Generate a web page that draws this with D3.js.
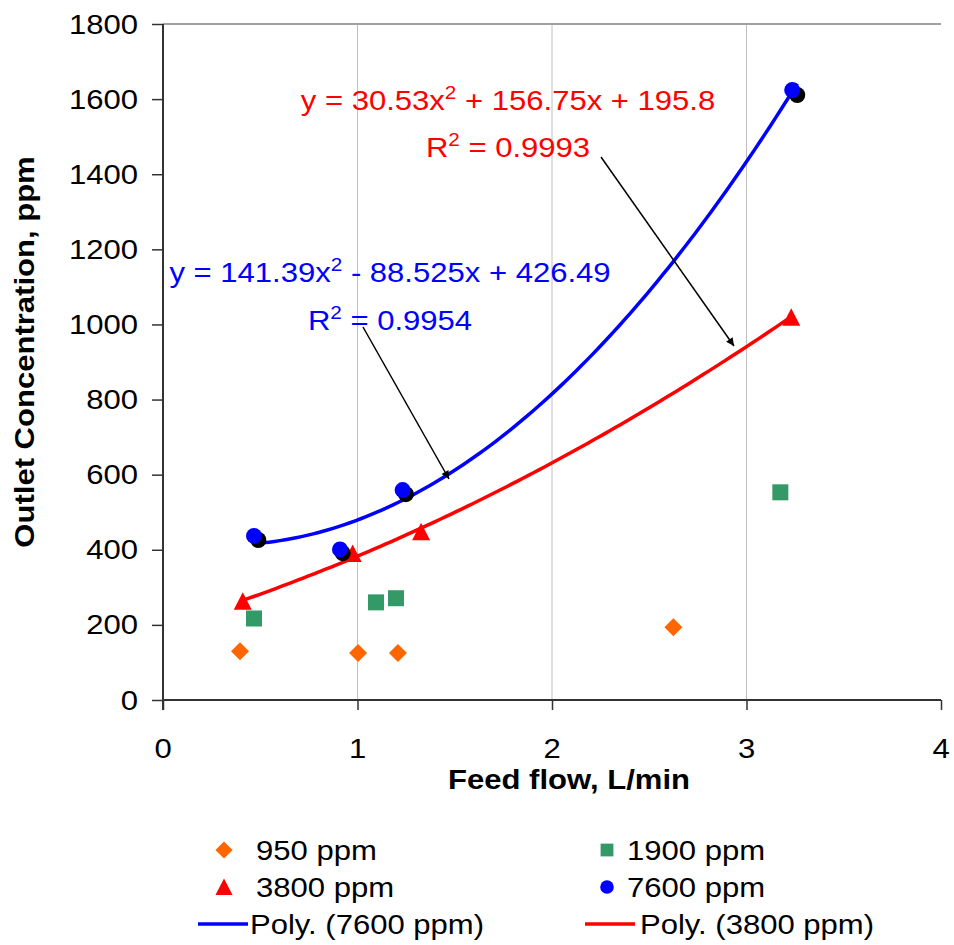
<!DOCTYPE html>
<html><head><meta charset="utf-8">
<script src="https://cdn.jsdelivr.net/npm/d3@7"></script>
<style>body{margin:0;background:#fff}svg text{font-family:"Liberation Sans",Arial,sans-serif}</style>
</head><body><svg id="c" width="954" height="945"></svg>
<script>
// ---- data ----
const xTicks = [0, 1, 2, 3, 4];
const yTicks = [0, 200, 400, 600, 800, 1000, 1200, 1400, 1600, 1800];
const s950X = [0.396, 1.003, 1.208, 2.624];
const s950Y = [130, 125, 125, 194];
const s1900X = [0.468, 1.095, 1.198, 3.174];
const s1900Y = [217, 260, 271, 553];
const s3800X = [0.41, 0.975, 1.327, 3.23];
const s3800Y = [263, 390, 448, 1019];
const s7600X = [0.468, 0.910, 1.232, 3.235];
const s7600Y = [437, 401, 559, 1624];
const s7600bX = [0.49, 0.924, 1.249, 3.261];
const s7600bY = [426, 391, 548, 1611];
const poly7600 = [426.49, -88.525, 141.39]; // c0, c1, c2
const poly3800 = [195.8, 156.75, 30.53];
const legendLabels = ["950 ppm", "1900 ppm", "3800 ppm", "7600 ppm", "Poly. (7600 ppm)", "Poly. (3800 ppm)"];

// ---- layout ----
const svg = d3.select("#c");
const X0 = 163, X1 = 941, Y0 = 700, Y1 = 24;
const x = d3.scaleLinear().domain([0, 4]).range([X0, X1]);
const y = d3.scaleLinear().domain([0, 1800]).range([Y0, Y1]);
const SX = 1.15, FS = 27;
const C = {o: "#FF6600", g: "#339966", r: "#FF0000", b: "#0000FF"};

function txt(g, tx, ty, anchor, opts = {}) {
  return g.append("text")
    .attr("transform", `translate(${tx},${ty})${opts.rot ? " rotate(" + opts.rot + ")" : ""} scale(${SX},1)`)
    .attr("text-anchor", anchor)
    .attr("font-size", opts.fs || FS)
    .attr("font-weight", opts.bold ? "bold" : null)
    .attr("fill", opts.fill || "#000");
}

// grid
svg.append("g").selectAll("line").data(xTicks.filter(d => d > 0 && d < 4)).join("line")
  .attr("x1", d => x(d)).attr("x2", d => x(d)).attr("y1", Y1).attr("y2", Y0)
  .attr("stroke", "#c0c0c0").attr("stroke-width", 1);
svg.append("line").attr("x1", X0).attr("x2", X1).attr("y1", y(1800)).attr("y2", y(1800))
  .attr("stroke", "#a0a0a0").attr("stroke-width", 2);

// axes
const gx = svg.append("g").attr("transform", `translate(0,${Y0})`)
  .call(d3.axisBottom(x).tickValues(xTicks).tickSize(10).tickFormat(""));
const gy = svg.append("g").attr("transform", `translate(${X0},0)`)
  .call(d3.axisLeft(y).tickValues(yTicks).tickSize(11).tickFormat(""));
[gx, gy].forEach(g => {
  g.select(".domain").attr("stroke", "#333").attr("stroke-width", 2);
  g.selectAll(".tick line").attr("stroke", "#333").attr("stroke-width", 1.5);
});
gx.select(".domain").attr("d", `M${X0},0H${X1}`);
gy.select(".domain").attr("d", `M0,${Y1}V${Y0 + 10}`);

xTicks.forEach(t => txt(svg, x(t), 758, "middle").text(t));
yTicks.forEach(t => txt(svg, 138, y(t) + 9.5, "end").text(t));

txt(svg, 569, 789, "middle", {bold: true}).text("Feed flow, L/min");
txt(svg, 34, 352, "middle", {bold: true, rot: -90}).text("Outlet Concentration, ppm");

// trendlines
function polyPts(c, xs) {
  const lo = d3.min(xs), hi = d3.max(xs);
  return d3.range(0, 101).map(i => {
    const xv = lo + (hi - lo) * i / 100;
    return [xv, c[0] + c[1] * xv + c[2] * xv * xv];
  });
}
const line = d3.line().x(d => x(d[0])).y(d => y(d[1]));
svg.append("path").attr("d", line(polyPts(poly7600, s7600bX))).attr("fill", "none")
  .attr("stroke", C.b).attr("stroke-width", 3.5);
svg.append("path").attr("d", line(polyPts(poly3800, s3800X))).attr("fill", "none")
  .attr("stroke", C.r).attr("stroke-width", 3.5);

// markers
const M = {
  diamond: "M0,-9L9,0L0,9L-9,0Z",
  square: "M-8,-8H8V8H-8Z",
  triangle: "M0,-9L9,8.5L-9,8.5Z",
  circle: "M8,0A8,8 0 1,1 -8,0A8,8 0 1,1 8,0Z"
};
function pts(xs, ys, shape, fill) {
  svg.append("g").selectAll("path").data(xs.map((v, i) => [v, ys[i]])).join("path")
    .attr("d", M[shape]).attr("fill", fill)
    .attr("transform", d => `translate(${x(d[0])},${y(d[1])})`);
}
pts(s950X, s950Y, "diamond", C.o);
pts(s1900X, s1900Y, "square", C.g);
pts(s3800X, s3800Y, "triangle", C.r);
pts(s7600bX, s7600bY, "circle", "#000");
pts(s7600X, s7600Y, "circle", C.b);

// equations
function eq(cx, by, fill, a, b) {
  const t = txt(svg, cx, by, "middle", {fill});
  t.append("tspan").text(a);
  t.append("tspan").attr("font-size", 18).attr("dy", -11).text("2");
  t.append("tspan").attr("dy", 11).text(b);
}
eq(508, 110, C.r, "y = 30.53x", " + 156.75x + 195.8");
eq(508, 157, C.r, "R", " = 0.9993");
eq(390, 282, C.b, "y = 141.39x", " - 88.525x + 426.49");
eq(390, 330, C.b, "R", " = 0.9954");

// arrows
const defs = svg.append("defs");
defs.append("marker").attr("id", "ah").attr("viewBox", "0 0 10 10").attr("refX", 10).attr("refY", 5)
  .attr("markerWidth", 10).attr("markerHeight", 8).attr("markerUnits", "userSpaceOnUse").attr("orient", "auto")
  .append("path").attr("d", "M0,0L10,5L0,10Z").attr("fill", "#000");
[[363, 327, 449, 479], [601, 157, 734, 346]].forEach(a => {
  svg.append("line").attr("x1", a[0]).attr("y1", a[1]).attr("x2", a[2]).attr("y2", a[3])
    .attr("stroke", "#000").attr("stroke-width", 1.5).attr("marker-end", "url(#ah)");
});

// legend
const L = svg.append("g");
const lg = [
  {sx: 224, tx: 256, y: 850, kind: "diamond", c: C.o, lab: legendLabels[0]},
  {sx: 607, tx: 627, y: 850, kind: "square", c: C.g, lab: legendLabels[1]},
  {sx: 224, tx: 256, y: 887, kind: "triangle", c: C.r, lab: legendLabels[2]},
  {sx: 607, tx: 627, y: 887, kind: "circle", c: C.b, lab: legendLabels[3]},
  {sx: 223, tx: 250, y: 924, kind: "line", c: C.b, lab: legendLabels[4]},
  {sx: 610, tx: 640, y: 924, kind: "line", c: C.r, lab: legendLabels[5]}
];
lg.forEach(d => {
  if (d.kind === "line") {
    L.append("line").attr("x1", d.sx - 25).attr("x2", d.sx + 25).attr("y1", d.y).attr("y2", d.y)
      .attr("stroke", d.c).attr("stroke-width", 3.5);
  } else {
    const sc = d.kind === "circle" ? 0.85 : d.kind === "square" ? 0.8 : 0.95;
    L.append("path").attr("d", M[d.kind]).attr("fill", d.c)
      .attr("transform", `translate(${d.sx},${d.y}) scale(${sc})`);
  }
  txt(L, d.tx, d.y + 10, "start").text(d.lab);
});
</script></body></html>
